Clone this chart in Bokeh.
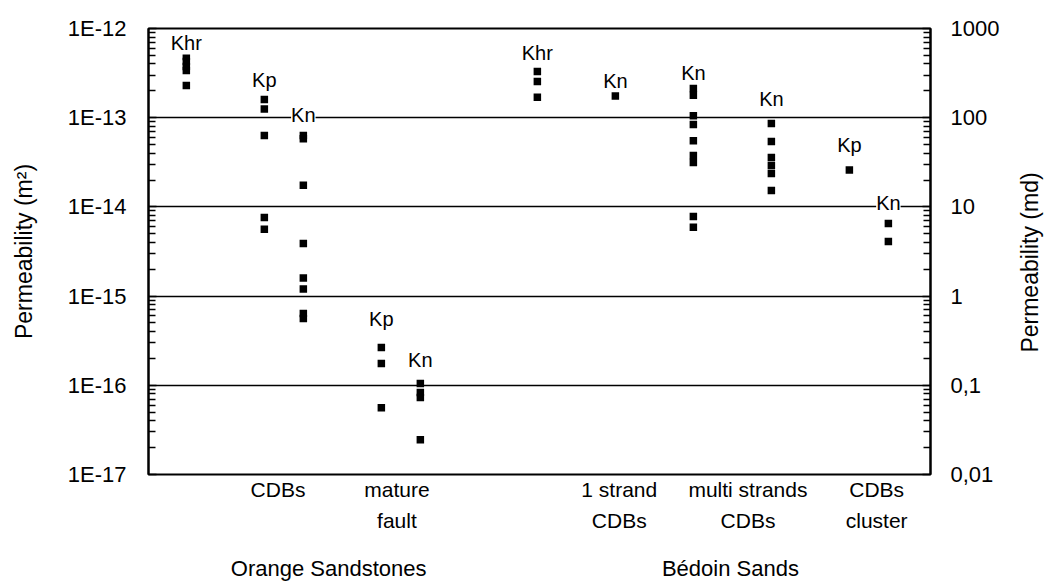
import math
from bokeh.plotting import figure
from bokeh.core.properties import value
from bokeh.models import (ColumnDataSource, Range1d, LogScale, LogAxis, LinearAxis,
                          FixedTicker, CustomJSTickFormatter, LabelSet, Label)
from bokeh.embed import file_html
from bokeh.resources import INLINE

# ---------------- data ----------------
orange_khr = [4.85e-13, 4.27e-13, 3.75e-13, 3.39e-13, 2.3e-13]
orange_cdb_kp = [1.6e-13, 1.25e-13, 6.3e-14, 7.6e-15, 5.6e-15]
orange_cdb_kn = [6.3e-14, 5.8e-14, 1.75e-14, 3.9e-15, 1.6e-15, 1.2e-15, 6.4e-16, 5.6e-16]
mature_kp = [2.65e-16, 1.75e-16, 5.6e-17]
mature_kn = [1.05e-16, 8.3e-17, 7.3e-17, 2.45e-17]
bedoin_khr = [3.3e-13, 2.55e-13, 1.7e-13]
strand1_kn = [1.75e-13]
multi_kn_a = [2.12e-13, 1.78e-13, 1.05e-13, 8.4e-14, 5.5e-14, 3.77e-14, 3.15e-14, 7.8e-15, 5.9e-15]
multi_kn_b = [8.6e-14, 5.4e-14, 3.58e-14, 2.91e-14, 2.37e-14, 1.53e-14]
cluster_kp = [2.6e-14]
cluster_kn = [6.5e-15, 4.1e-15]

series = [orange_khr, orange_cdb_kp, orange_cdb_kn, mature_kp, mature_kn,
          bedoin_khr, strand1_kn, multi_kn_a, multi_kn_b, cluster_kp, cluster_kn]
series_slots = [1, 3, 4, 6, 7, 10, 12, 14, 16, 18, 19]
series_tags = ["Khr", "Kp", "Kn", "Kp", "Kn", "Khr", "Kn", "Kn", "Kn", "Kp", "Kn"]
tag_levels = [6.8e-13, 2.68e-13, 1.06e-13, 5.6e-16, 1.9e-16,
              5.25e-13, 2.6e-13, 3.2e-13, 1.64e-13, 4.9e-14, 1.12e-14]

category_slots = [3.35, 6.4, 12.1, 15.4, 18.7]
category_labels = ["CDBs", "mature\nfault", "1 strand\nCDBs", "multi strands\nCDBs", "CDBs\ncluster"]
group_slots = [4.65, 14.95]
group_labels = ["Orange Sandstones", "Bédoin Sands"]

m2_ticks = [1e-17, 1e-16, 1e-15, 1e-14, 1e-13, 1e-12]
m2_tick_labels = ["1E-17", "1E-16", "1E-15", "1E-14", "1E-13", "1E-12"]
md_ticks = [0.01, 0.1, 1, 10, 100, 1000]
md_tick_labels = ["0,01", "0,1", "1", "10", "100", "1000"]
grid_values = [1e-16, 1e-15, 1e-14, 1e-13]

# ---------------- sources ----------------
px, py = [], []
for slot, vals in zip(series_slots, series):
    px += [slot] * len(vals)
    py += vals
pts = ColumnDataSource(dict(x=px, y=py))
tags = ColumnDataSource(dict(x=series_slots, y=tag_levels, text=series_tags))

FONT = "Liberation Sans"

p = figure(width=1046, height=583,
           x_range=Range1d(0.03, 20.08), y_range=Range1d(m2_ticks[0], m2_ticks[-1]),
           y_axis_type="log", x_axis_type=None,
           output_backend="svg", toolbar_location=None,
           min_border_left=148, min_border_right=116, min_border_top=28, min_border_bottom=109,
           background_fill_color="white", border_fill_color="white")
p.outline_line_color = "black"
p.outline_line_width = 2

minor = [k * t for t in m2_ticks[:-1] for k in range(2, 10)]
minor_md = [k * t for t in md_ticks[:-1] for k in range(2, 10)]

log_fmt_code = """
const e = Math.round(Math.log10(tick));
for (let i = 0; i < vals.length; i++) {
  if (Math.round(Math.log10(vals[i])) == e) return labs[i];
}
return "";
"""
near_fmt_code = """
let best = 0, d = Infinity;
for (let i = 0; i < vals.length; i++) {
  const dd = Math.abs(vals[i] - tick);
  if (dd < d) { d = dd; best = i; }
}
return labs[best];
"""

def style_y(ax):
    ax.axis_line_color = "black"
    ax.axis_line_width = 2
    ax.major_tick_in = 8
    ax.major_tick_out = 0
    ax.minor_tick_in = 7
    ax.minor_tick_out = 0
    ax.major_tick_line_color = "black"
    ax.minor_tick_line_color = "black"
    ax.major_tick_line_width = 1.5
    ax.minor_tick_line_width = 1.5
    ax.major_label_text_font = FONT
    ax.major_label_text_font_size = "22px"
    ax.major_label_text_color = "black"
    ax.axis_label_text_font = FONT
    ax.axis_label_text_font_size = "23px"
    ax.axis_label_text_font_style = "normal"
    ax.axis_label_text_color = "black"

# left axis
ly = p.yaxis[0]
ly.ticker = FixedTicker(ticks=m2_ticks, minor_ticks=minor)
ly.formatter = CustomJSTickFormatter(args=dict(vals=m2_ticks, labs=m2_tick_labels), code=log_fmt_code)
ly.axis_label = "Permeability (m²)"
style_y(ly)
ly.major_label_standoff = 22
ly.axis_label_standoff = 28

# right axis
p.extra_y_ranges = {"md": Range1d(md_ticks[0], md_ticks[-1])}
p.extra_y_scales = {"md": LogScale()}
ry = LogAxis(y_range_name="md",
             ticker=FixedTicker(ticks=md_ticks, minor_ticks=minor_md),
             formatter=CustomJSTickFormatter(args=dict(vals=md_ticks, labs=md_tick_labels), code=log_fmt_code))
style_y(ry)
ry.major_label_standoff = 20
p.add_layout(ry, "right")

# right axis title, in its own side panel (reads bottom-to-top, like the left one)
p.add_layout(Label(x=27, y=212, x_units="screen", y_units="screen",
                   text="Permeability (md)", angle=math.pi / 2, angle_units="rad",
                   text_align="center", text_baseline="middle",
                   text_font=FONT, text_font_size="23px", text_color="black"), "right")

# grid
p.ygrid.ticker = FixedTicker(ticks=grid_values)
p.ygrid.grid_line_color = "black"
p.ygrid.grid_line_width = 1.5
p.ygrid.minor_grid_line_color = None

# bottom category axis
cx = LinearAxis(ticker=FixedTicker(ticks=category_slots),
                formatter=CustomJSTickFormatter(args=dict(vals=category_slots, labs=category_labels), code=near_fmt_code))
cx.axis_line_color = None
cx.major_tick_line_color = None
cx.minor_tick_line_color = None
cx.major_label_standoff = -3
cx.major_label_text_font = FONT
cx.major_label_text_font_size = "21px"
cx.major_label_text_color = "black"
cx.major_label_text_line_height = 1.35
p.add_layout(cx, "below")

# bottom group axis
gx = LinearAxis(ticker=FixedTicker(ticks=group_slots),
                formatter=CustomJSTickFormatter(args=dict(vals=group_slots, labs=group_labels), code=near_fmt_code))
gx.axis_line_color = None
gx.major_tick_line_color = None
gx.minor_tick_line_color = None
gx.major_label_standoff = 15
gx.major_label_text_font = FONT
gx.major_label_text_font_size = "22px"
gx.major_label_text_color = "black"
p.add_layout(gx, "below")

# points
p.scatter("x", "y", source=pts, marker="square", size=7.5,
          fill_color="black", line_color=None)

# tags
labels = LabelSet(x="x", y="y", text="text", source=tags,
                  text_align="center", text_baseline="middle",
                  text_font=value(FONT), text_font_size=value("20px"), text_color="black",
                  background_fill_color="white")
p.add_layout(labels)

open("out.html", "w").write(file_html(p, INLINE))
